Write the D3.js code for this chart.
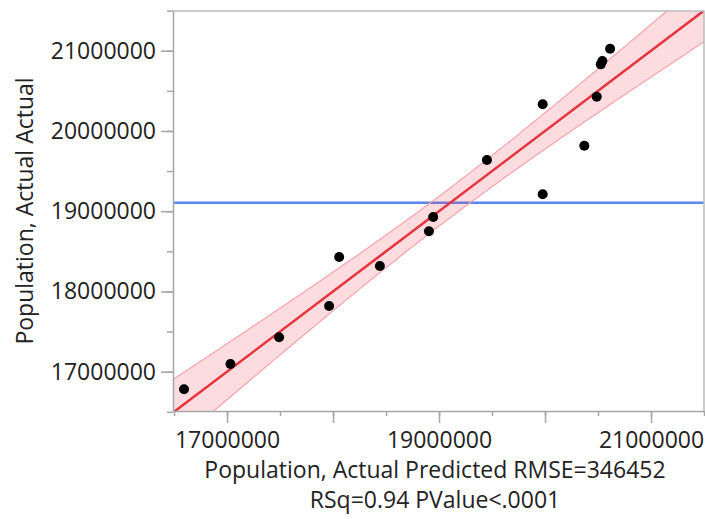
<!DOCTYPE html>
<html>
<head>
<meta charset="utf-8">
<title>Actual by Predicted</title>
<script src="https://cdn.jsdelivr.net/npm/d3@7"></script>
<style>
  body { margin: 0; background: #fff; }
  text { font-family: "Open Sans", "Noto Sans", sans-serif; fill: #222; }
  .axis path, .axis line { stroke: #a6a6a6; }
</style>
</head>
<body>
<svg id="chart" width="705" height="519"></svg>
<script>
// Population, predicted vs actual
const predicted = [20614000, 20541000, 20526000, 20488000, 19978000, 20371000, 19452000, 19978000,
                   18945000, 18905000, 18442000, 18058000, 17963000, 17491000, 17032000, 16594000];
const actual    = [21025000, 20872000, 20830000, 20427000, 20332000, 19816000, 19638000, 19211000,
                   18928000, 18750000, 18317000, 18429000, 17819000, 17429000, 17096000, 16781000];

const xLabelTicks = [17000000, 19000000, 21000000];
const yLabelTicks = [17000000, 18000000, 19000000, 20000000, 21000000];

const rmse = 346452;
const rsq = 0.94;
const tCrit = 2.145; // t(0.975, n-2)

const svg = d3.select("#chart");
const pLeft = 173, pRight = 704, pTop = 11, pBottom = 411;

const x = d3.scaleLinear().domain([16490000, 21500000]).range([pLeft, pRight]);
const y = d3.scaleLinear().domain([16510000, 21495000]).range([pBottom, pTop]);

svg.append("defs").append("clipPath").attr("id", "plotclip")
  .append("rect").attr("x", pLeft).attr("y", pTop).attr("width", pRight - pLeft).attr("height", pBottom - pTop);

const plot = svg.append("g").attr("clip-path", "url(#plotclip)");

// mean of actual
const meanY = d3.mean(actual);
plot.append("line")
  .attr("x1", pLeft).attr("x2", pRight)
  .attr("y1", y(meanY)).attr("y2", y(meanY))
  .attr("stroke", "#5a86ee").attr("stroke-width", 2.5);

// confidence band around the fit line (actual = predicted)
const n = predicted.length;
const meanX = d3.mean(predicted);
const sxx = d3.sum(predicted, v => (v - meanX) ** 2);
const half = v => tCrit * rmse * Math.sqrt(1 / n + (v - meanX) ** 2 / sxx);
const xs = d3.range(0, 101).map(i => x.domain()[0] + i * (x.domain()[1] - x.domain()[0]) / 100);

plot.append("path")
  .datum(xs)
  .attr("d", d3.area().x(v => x(v)).y0(v => y(v - half(v))).y1(v => y(v + half(v))))
  .attr("fill", "rgba(245, 60, 75, 0.18)");

[1, -1].forEach(s => {
  plot.append("path")
    .datum(xs)
    .attr("d", d3.line().x(v => x(v)).y(v => y(v + s * half(v))))
    .attr("fill", "none").attr("stroke", "#f7a3ab").attr("stroke-width", 1.2);
});

plot.append("line")
  .attr("x1", x(x.domain()[0])).attr("y1", y(x.domain()[0]))
  .attr("x2", x(x.domain()[1])).attr("y2", y(x.domain()[1]))
  .attr("stroke", "#e8323c").attr("stroke-width", 2.5);

// points
svg.append("g").selectAll("circle")
  .data(predicted.map((p, i) => [p, actual[i]]))
  .enter().append("circle")
  .attr("cx", d => x(d[0])).attr("cy", d => y(d[1]))
  .attr("r", 5).attr("fill", "#000");

// frame
svg.append("path")
  .attr("d", `M${pLeft},${pTop}H${pRight}V${pBottom}`)
  .attr("fill", "none").attr("stroke", "#bcbcbc").attr("stroke-width", 1.5);

// axes: minor ticks, then major ticks with labels
const minorX = d3.range(16500000, 21500001, 500000);
const minorY = d3.range(16500000, 21500001, 500000);
const majorX = d3.range(17000000, 21000001, 1000000);

svg.append("g").attr("class", "axis").attr("transform", `translate(0,${pBottom})`)
  .call(d3.axisBottom(x).tickValues(minorX).tickSize(5).tickFormat(""))
  .call(g => g.select(".domain").remove());
svg.append("g").attr("class", "axis").attr("transform", `translate(0,${pBottom})`)
  .call(d3.axisBottom(x).tickValues(majorX).tickSize(12).tickSizeOuter(0)
    .tickFormat(d => xLabelTicks.includes(d) ? d3.format("d")(d) : ""))
  .call(g => g.select(".domain").attr("stroke-width", 1.5))
  .call(g => g.selectAll("text").attr("font-size", 23).attr("y", 37).attr("dy", 0).attr("fill", "#222"));

svg.append("g").attr("class", "axis").attr("transform", `translate(${pLeft},0)`)
  .call(d3.axisLeft(y).tickValues(minorY).tickSize(6).tickFormat(""))
  .call(g => g.select(".domain").remove());
svg.append("g").attr("class", "axis").attr("transform", `translate(${pLeft},0)`)
  .call(d3.axisLeft(y).tickValues(yLabelTicks).tickSize(12).tickSizeOuter(0).tickFormat(d3.format("d")))
  .call(g => g.select(".domain").attr("stroke-width", 1.5))
  .call(g => g.selectAll("text").attr("font-size", 23).attr("x", -17).attr("fill", "#222"));

svg.selectAll(".axis line").attr("stroke-width", 1.5);

// titles
svg.append("text")
  .attr("transform", `translate(24,${(pTop + pBottom) / 2}) rotate(-90)`)
  .attr("text-anchor", "middle").attr("dominant-baseline", "central")
  .attr("font-size", 23)
  .text("Population, Actual Actual");

svg.append("text")
  .attr("x", 435).attr("y", 478)
  .attr("text-anchor", "middle").attr("font-size", 23)
  .text(`Population, Actual Predicted RMSE=${rmse}`);

svg.append("text")
  .attr("x", 435).attr("y", 508)
  .attr("text-anchor", "middle").attr("font-size", 23)
  .text(`RSq=${rsq.toFixed(2)} PValue<.0001`);
</script>
</body>
</html>
